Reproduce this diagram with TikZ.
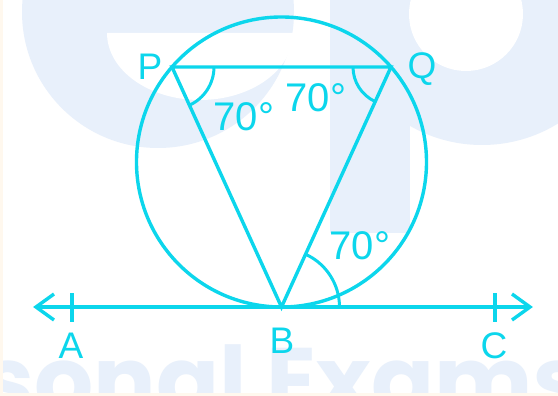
\documentclass[tikz,border=0pt]{standalone}
\usepackage{fontspec}
\setmainfont{Liberation Sans}
\newfontfamily\wmfont{Poppins}
\usetikzlibrary{angles,calc}
\definecolor{cy}{RGB}{12,214,236}
\definecolor{wm}{RGB}{232,240,251}
\definecolor{edgec}{RGB}{255,248,238}
\begin{document}
\begin{tikzpicture}[x=1pt,y=-1pt,
  geo/.style={draw=cy,line width=3.4pt},
  arcm/.style={draw=cy,line width=3pt},
  lbl/.style={text=cy,font=\fontsize{37}{40}\selectfont,inner sep=0pt,anchor=base},
  ang/.style={text=cy,font=\fontsize{40}{44}\selectfont,inner sep=0pt,anchor=base}]
\useasboundingbox (0,0) rectangle (558,396);
\clip (0,0) rectangle (558,396);
\fill[white] (0,0) rectangle (558,396);
% watermark
\fill[wm] (158,12) circle (136);
\fill[white] (107,33) -- (293,33) arc[start angle=0, end angle=180, x radius=93, y radius=67] -- cycle;
\fill[wm] (330,0) rectangle (410,233);
\fill[wm] (482,0) circle (145);
\fill[white] (466,14) circle (57);
\node[anchor=base west, inner sep=0pt, text=wm, font=\wmfont\bfseries\fontsize{93}{93}\selectfont] (wmtext) at (-18,413) {sonal Exams};
\fill[edgec] (0,0) rectangle (3,396);
\fill[edgec] (0,393) rectangle (558,396);
% geometry
\coordinate (O) at (281.5,162);
\coordinate (P) at (172,67);
\coordinate (Q) at (391,67);
\coordinate (B) at (281.5,307);
\coordinate (Aend) at (36,307);
\coordinate (Cend) at (530,307);
\coordinate (Cdir) at (420,307);
\draw[geo] (O) circle (145);
\draw[geo] (Aend) -- (Cend);
\draw[geo, line join=miter] (P) -- (Q) -- (B) -- cycle;
\draw[geo, line join=miter] ($(Aend)+(18,-13)$) -- (Aend) -- ($(Aend)+(18,13)$);
\draw[geo, line join=miter] ($(Cend)+(-18,-13)$) -- (Cend) -- ($(Cend)+(-18,13)$);
\coordinate (tA1) at (72,293); \coordinate (tA2) at (72,322);
\coordinate (tC1) at (495,293); \coordinate (tC2) at (495,322);
\draw[geo] (tA1) -- (tA2);
\draw[geo] (tC1) -- (tC2);
\pic[arcm, angle radius=42pt] {angle=B--P--Q};
\pic[arcm, angle radius=38pt] {angle=P--Q--B};
\pic[arcm, angle radius=58pt] {angle=Cdir--B--Q};
% labels
\node[lbl] (lP) at (150,80) {P};
\node[lbl] (lQ) at (422,79) {Q};
\node[lbl] (lA) at (71,358) {A};
\node[lbl] (lB) at (282,353) {B};
\node[lbl] (lC) at (494,358) {C};
\node[ang] (a1) at (244,131) {70°};
\node[ang] (a2) at (316,112) {70°};
\node[ang] (a3) at (360,259.5) {70°};
\end{tikzpicture}
\end{document}
